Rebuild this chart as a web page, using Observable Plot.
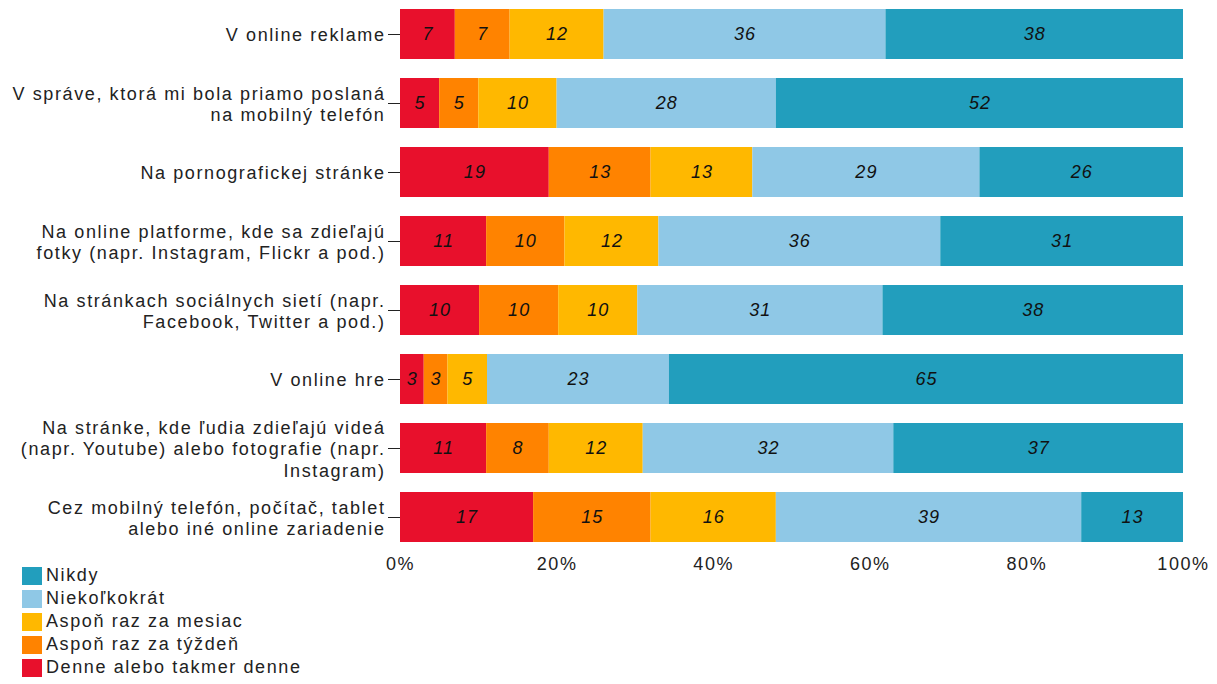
<!DOCTYPE html>
<html>
<head>
<meta charset="utf-8">
<script src="https://cdn.jsdelivr.net/npm/d3@7"></script>
<script src="https://cdn.jsdelivr.net/npm/@observablehq/plot@0.6"></script>
<style>
  html, body { margin: 0; padding: 0; background: #fff; }
  #wrap { position: relative; width: 1217px; height: 684px; font-family: "Liberation Sans", Arial, sans-serif; }
  #legend { position: absolute; left: 22px; top: 564px; font-size: 18px; color: #222; letter-spacing: 1.6px; }
  .li { display: flex; align-items: center; height: 23px; }
  .sw { width: 20px; height: 18px; margin-right: 4px; }
  #chart svg g[aria-label="y-axis tick label"] text,
  #chart svg g[aria-label="x-axis tick label"] text { letter-spacing: 1.6px; }
  #chart svg g[aria-label="text"] text { letter-spacing: 1px; }
</style>
</head>
<body>
<div id="wrap">
  <div id="chart"></div>
  <div id="legend"></div>
</div>
<script>
const categories = [
  "V online reklame",
  "V správe, ktorá mi bola priamo poslaná\nna mobilný telefón",
  "Na pornografickej stránke",
  "Na online platforme, kde sa zdieľajú\nfotky (napr. Instagram, Flickr a pod.)",
  "Na stránkach sociálnych sietí (napr.\nFacebook, Twitter a pod.)",
  "V online hre",
  "Na stránke, kde ľudia zdieľajú videá\n(napr. Youtube) alebo fotografie (napr.\nInstagram)",
  "Cez mobilný telefón, počítač, tablet\nalebo iné online zariadenie"
];
const seriesNames = ["Denne alebo takmer denne", "Aspoň raz za týždeň", "Aspoň raz za mesiac", "Niekoľkokrát", "Nikdy"];
const seriesColors = ["#e8102c", "#ff8300", "#ffb800", "#8fc8e6", "#229ebd"];
const denne     = [7, 5, 19, 11, 10, 3, 11, 17];
const tyzden    = [7, 5, 13, 10, 10, 3, 8, 15];
const mesiac    = [12, 10, 13, 12, 10, 5, 12, 16];
const niekolko  = [36, 28, 29, 36, 31, 23, 32, 39];
const nikdy     = [38, 52, 26, 31, 38, 65, 37, 13];
const xTicks = [0, 0.2, 0.4, 0.6, 0.8, 1];

const seriesValues = [denne, tyzden, mesiac, niekolko, nikdy];
const data = [];
seriesNames.forEach((s, si) => {
  categories.forEach((c, ci) => {
    data.push({category: c, series: s, value: seriesValues[si][ci]});
  });
});

const stackOpts = {x: "value", y: "category", z: "series", offset: "normalize", order: seriesNames};

const chart = Plot.plot({
  width: 1217,
  height: 585,
  marginLeft: 400,
  marginRight: 34,
  marginTop: 0,
  marginBottom: 34,
  style: {fontFamily: "'Liberation Sans', Arial, sans-serif", fontSize: "18px", background: "#fff", color: "#222"},
  x: {domain: [0, 1]},
  y: {domain: categories, paddingInner: 0.278, paddingOuter: 0.115},
  color: {domain: seriesNames, range: seriesColors},
  marks: [
    Plot.barX(data, Plot.stackX({...stackOpts, fill: "series"})),
    Plot.text(data, Plot.stackX({...stackOpts, text: d => String(d.value), fill: "#111", fontStyle: "italic"})),
    Plot.axisY({tickSize: 12, tickPadding: 3, stroke: "#222", lineHeight: 1.2, fill: "#222", label: null}),
    Plot.axisX({ticks: xTicks, tickSize: 0, tickPadding: 6, tickFormat: d3.format(".0%"), fill: "#222", label: null})
  ]
});
document.getElementById("chart").appendChild(chart);

// legend (top to bottom: reversed stacking order)
const legend = document.getElementById("legend");
seriesNames.slice().reverse().forEach((s) => {
  const i = seriesNames.indexOf(s);
  const row = document.createElement("div");
  row.className = "li";
  const sw = document.createElement("div");
  sw.className = "sw";
  sw.style.background = seriesColors[i];
  const t = document.createElement("span");
  t.textContent = s;
  row.appendChild(sw);
  row.appendChild(t);
  legend.appendChild(row);
});
</script>
</body>
</html>
